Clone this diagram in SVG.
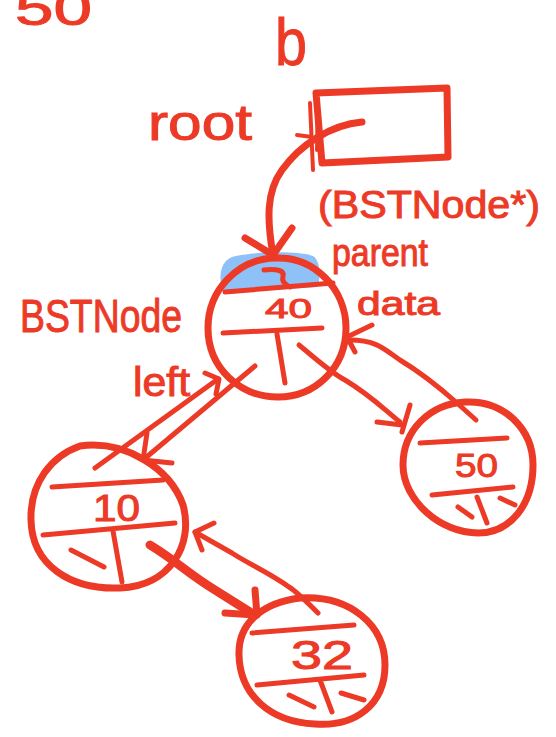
<svg xmlns="http://www.w3.org/2000/svg" width="556" height="737" viewBox="0 0 556 737">
  <style>
    .ink { fill: none; stroke: #EC3A27; stroke-width: 5; stroke-linecap: round; stroke-linejoin: round; }
    .ring { fill: none; stroke: #EC3A27; stroke-width: 7; stroke-linecap: round; stroke-linejoin: round; }
    .thin { fill: none; stroke: #EC3A27; stroke-width: 4; stroke-linecap: round; stroke-linejoin: round; }
    .bold { fill: none; stroke: #EC3A27; stroke-width: 9; stroke-linecap: round; stroke-linejoin: round; }
    .lbl { fill: #EC3A27; stroke: #EC3A27; stroke-width: 1; font-family: "Liberation Sans", "DejaVu Sans", sans-serif; }
    .hl { fill: #8EC1F8; stroke: none; }
  </style>

  <!-- free labels -->
  <g id="labels">
    <text class="lbl" x="15" y="25" font-size="48" textLength="77" lengthAdjust="spacingAndGlyphs">50</text>
    <text class="lbl" x="275" y="65" font-size="66" textLength="32" lengthAdjust="spacingAndGlyphs">b</text>
    <text class="lbl" x="148" y="140" font-size="50" textLength="104" lengthAdjust="spacingAndGlyphs">root</text>
    <text class="lbl" x="318" y="218" font-size="38" textLength="222" lengthAdjust="spacingAndGlyphs">(BSTNode*)</text>
    <text class="lbl" x="332" y="266" font-size="38" textLength="96" lengthAdjust="spacingAndGlyphs">parent</text>
    <text class="lbl" x="357" y="315" font-size="33" textLength="83" lengthAdjust="spacingAndGlyphs">data</text>
    <text class="lbl" x="20" y="332" font-size="47" textLength="162" lengthAdjust="spacingAndGlyphs">BSTNode</text>
    <text class="lbl" x="133" y="396" font-size="40" textLength="57" lengthAdjust="spacingAndGlyphs">left</text>
  </g>

  <!-- root pointer box -->
  <g id="root-ptr">
    <path class="ring" d="M316,93 L447,88 L448,157 L322,163 Z"/>
    <path class="thin" d="M310,103 L313,170 M318,100 L317,150 M297,135 L312,137"/>
  </g>

  <!-- node 40 -->
  <g id="node-40">
    <path class="hl" d="M232,257 C255,251 300,251 313,256 C321,261 321,280 317,287 L224,293 C218,280 219,262 232,257 Z"/>
    <path class="ring" d="M275,258 C315,256 346,290 346,328 C346,368 315,397 278,397 C240,397 208,368 208,328 C208,290 238,259 275,258 Z"/>
    <path class="ink" d="M225,292 L333,283 M223,333 L322,328 M277,334 L285,383"/>
    <text class="lbl" x="265" y="318" font-size="28" textLength="47" lengthAdjust="spacingAndGlyphs">40</text>
  </g>

  <!-- node 10 -->
  <g id="node-10">
    <path class="ring" d="M80,446 C125,440 170,468 183,505 C194,545 170,586 120,588 C70,590 32,565 31,520 C30,482 52,456 80,446 Z"/>
    <path class="ink" d="M52,487 L163,480 M43,535 L175,523 M113,531 L122,582 M71,550 L104,567"/>
    <text class="lbl" x="93" y="521" font-size="36" textLength="47" lengthAdjust="spacingAndGlyphs" stroke-width="2">10</text>
  </g>

  <!-- node 50 -->
  <g id="node-50">
    <path class="ring" d="M465,402 C505,400 533,430 533,465 C533,505 510,533 478,533 C440,533 403,500 403,465 C403,430 430,404 465,402 Z"/>
    <path class="ink" d="M420,443 L507,438 M432,495 L513,487 M477,497 L487,523 M458,507 L472,517 M500,498 L515,505"/>
    <text class="lbl" x="455" y="477" font-size="34" textLength="43" lengthAdjust="spacingAndGlyphs">50</text>
  </g>

  <!-- node 32 -->
  <g id="node-32">
    <path class="ring" d="M300,598 C350,595 385,625 385,665 C385,705 355,727 315,724 C270,722 240,695 239,655 C238,625 260,603 300,598 Z"/>
    <path class="ink" d="M252,633 L354,625 M257,685 L364,675 M320,680 L332,712 M289,695 L314,707 M341,693 L364,700"/>
    <text class="lbl" x="291" y="669" font-size="40" textLength="62" lengthAdjust="spacingAndGlyphs">32</text>
  </g>

  <!-- connectors -->
  <g id="connectors">
    <!-- root -> node 40 -->
    <path class="ring" stroke-width="6" d="M362,122 C330,125 300,145 282,170 C266,192 267,220 273,255"/>
    <path class="ring" stroke-width="6" d="M245,238 L273,255 L292,228"/>
    <path class="ink" d="M264,270 Q285,268 283,276 Q281,283 290,287"/>
    <!-- 40 -> 50 -->
    <path class="ink" d="M299,345 C315,358 330,372 345,380 C370,395 385,410 400,422"/>
    <path class="ink" d="M410,405 L402,432 M377,422 L402,425"/>
    <!-- 50 -> 40 -->
    <path class="ink" d="M476,420 L457,403 C440,388 420,372 400,360 C385,350 377,340 350,340"/>
    <path class="ink" d="M372,325 L347,337 L355,352"/>
    <!-- 40 -> 10 -->
    <path class="ink" d="M255,366 L143,460"/>
    <path class="ink" d="M147,433 L143,460 L172,463"/>
    <!-- 10 -> 40 -->
    <path class="ink" d="M95,468 L218,379"/>
    <path class="ink" d="M205,373 L219,379 L216,394"/>
    <!-- 10 -> 32 -->
    <path class="bold" d="M150,545 C175,560 190,575 215,590 L250,612"/>
    <path class="ring" stroke-width="6" d="M255,590 L257,615 M225,613 L255,615"/>
    <!-- 32 -> 10 -->
    <path class="ink" d="M318,613 C305,600 296,591 289,587 C270,573 245,562 232,553 L195,532"/>
    <path class="ink" d="M214,523 L195,532 L202,550"/>
  </g>
</svg>
